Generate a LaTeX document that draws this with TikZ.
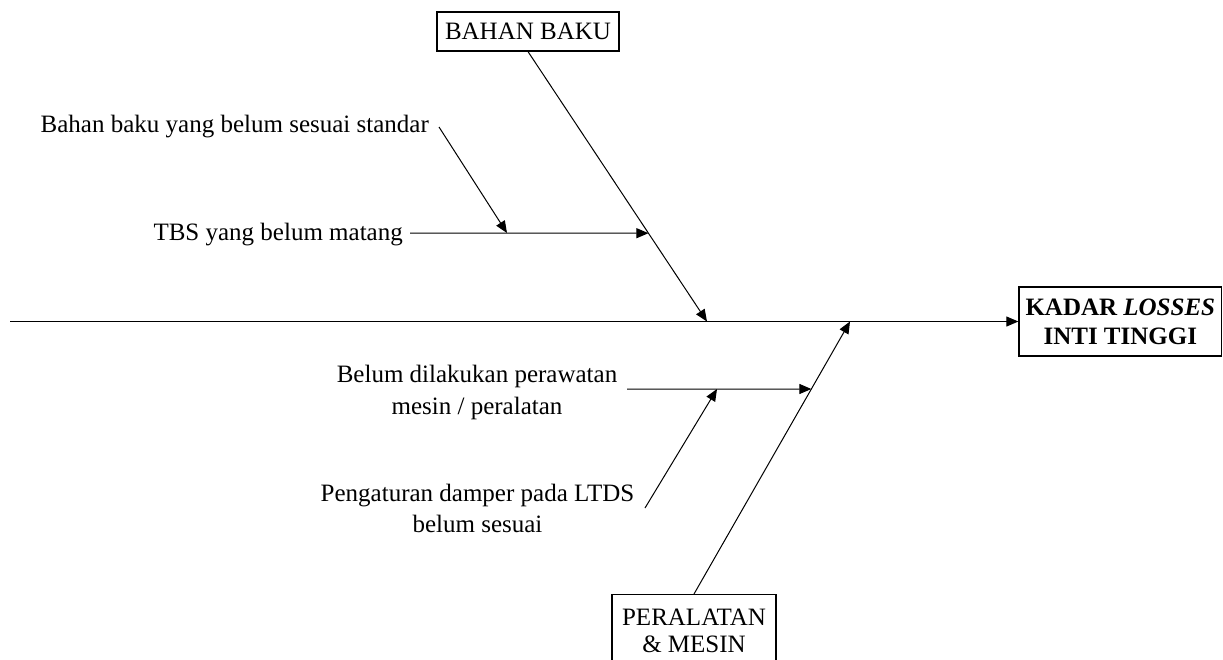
\documentclass[tikz,border=0pt]{standalone}
\usepackage{fontspec}
\setmainfont{Liberation Serif}
\usetikzlibrary{arrows.meta,calc}
\begin{document}
\begin{tikzpicture}[x=1pt,y=-1pt,
  arr/.style={line width=1pt,-{Triangle[length=12pt,width=10pt]}},
  box/.style={draw,line width=1.2pt,inner sep=0pt,align=center},
  lbl/.style={inner sep=0pt,align=center,font=\fontsize{25}{31}\selectfont}]
\useasboundingbox (0,0) rectangle (1223,659);
% category boxes and effect
\node[box,minimum width=182pt,minimum height=39pt,font=\fontsize{25}{29}\selectfont] (bahan) at (528,31.5) {BAHAN BAKU};
\node[box,minimum width=202.7pt,minimum height=69pt,font=\fontsize{25}{29}\selectfont\bfseries] (kadar) at (1120.3,321.5) {KADAR \textit{LOSSES}\\INTI TINGGI};
\node[box,anchor=north,minimum width=164pt,inner ysep=14pt,font=\fontsize{25}{27}\selectfont] (peralatan) at (694,594) {PERALATAN\\\& MESIN};
% spine and main bones
\coordinate (spine0) at (10,321.5);
\coordinate (bb) at (707,321.5);
\coordinate (pm) at (850,321.5);
\draw[arr] (spine0) -- (kadar.west);
\draw[arr] (bahan.south) -- (bb);
\draw[arr] (peralatan.north) -- (pm);
% bahan baku causes
\node[lbl,anchor=base east] (tbs) at (403,240) {TBS yang belum matang};
\coordinate (tbs0) at (410,233);
\coordinate (b1) at ($(bahan.south)!0.6728!(bb)$);
\draw[arr] (tbs0) -- (b1);
\node[lbl,anchor=base east] (bbs) at (429,132) {Bahan baku yang belum sesuai standar};
\coordinate (bbs0) at (439,127);
\coordinate (s1) at (507,233);
\draw[arr] (bbs0) -- (s1);
% peralatan causes
\node[lbl,anchor=north,font=\fontsize{25}{32}\selectfont] (belum) at (477,365) {Belum dilakukan perawatan\\mesin / peralatan};
\coordinate (bel0) at (627,389);
\coordinate (b2) at ($(peralatan.north)!0.7523!(pm)$);
\draw[arr] (bel0) -- (b2);
\node[lbl,anchor=north] (peng) at (477.5,484) {Pengaturan damper pada LTDS\\belum sesuai};
\coordinate (peng0) at (645,508);
\coordinate (s2) at (717,389);
\draw[arr] (peng0) -- (s2);
\end{tikzpicture}
\end{document}
